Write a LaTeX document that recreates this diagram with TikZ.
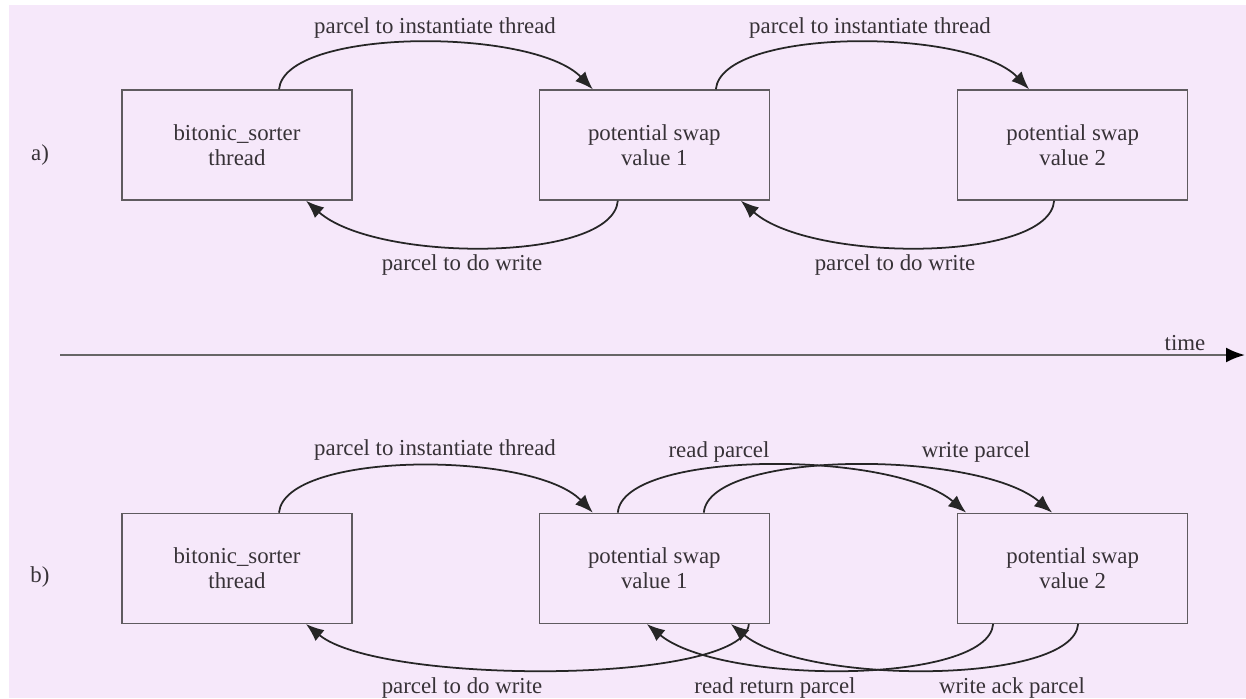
\documentclass[tikz,border=0pt]{standalone}
\usepackage{fontspec}
\setmainfont{Liberation Serif}
\usetikzlibrary{positioning,arrows.meta,calc}
\definecolor{bgpink}{RGB}{246,232,250}
\definecolor{inkgray}{RGB}{55,50,55}

\begin{document}
\begin{tikzpicture}[x=0.02cm, y=-0.02cm, font=\fontsize{13}{14.5}\selectfont,
  >={Latex[length=3.6mm,width=2.8mm]},
  proc/.style={draw=inkgray!80, line width=0.8pt, rectangle, minimum width=4.6cm, minimum height=2.2cm, align=center, text=inkgray, inner sep=0pt},
  lbl/.style={text=inkgray, inner sep=0pt},
  msg/.style={->, line width=1pt, draw=black!85}]
  \useasboundingbox (0,0) rectangle (1246,698);
  \fill[white] (0,0) rectangle (1246,698);
  \fill[bgpink] (9,5) rectangle (1246,698);

  % Row a
  \node[proc] (sortA) at (237,145) {bitonic\_sorter\\thread};
  \node[proc, right=3.72cm of sortA] (swapA) {potential swap\\value 1};
  \node[proc, right=3.74cm of swapA] (swapB) {potential swap\\value 2};
  \node[lbl] (tagA) at (40,155) {a)};

  % Row b
  \node[proc, below=6.24cm of sortA] (sortB) {bitonic\_sorter\\thread};
  \node[proc, below=6.24cm of swapA] (swapC) {potential swap\\value 1};
  \node[proc, below=6.24cm of swapB] (swapD) {potential swap\\value 2};
  \node[lbl] (tagB) at (40,577) {b)};

  % Time axis
  \coordinate (tstart) at (60,355);
  \coordinate (tend) at (1245,355);
  \draw[-{Latex[length=3.8mm,width=3mm,color=black]}, line width=1.3pt, draw=black!60] (tstart) -- (tend);
  \node[lbl] (timelbl) at (1185,343) {time};

  % Arrows, row a
  \draw[msg] ($(sortA.north)+(42,0)$) .. controls +(6,-62) and +(-60,-62) .. ($(swapA.north)+(-61.5,0)$);
  \draw[msg] ($(swapA.north)+(61.5,0)$) .. controls +(6,-62) and +(-60,-62) .. ($(swapB.north)+(-43.5,0)$);
  \draw[msg] ($(swapA.south)+(-36.5,0)$) .. controls +(-5,62) and +(70,62) .. ($(sortA.south)+(69,0)$);
  \draw[msg] ($(swapB.south)+(-18.5,0)$) .. controls +(-5,62) and +(70,62) .. ($(swapA.south)+(86.5,0)$);
  \node[lbl] (instA) at (435,28) {parcel to instantiate thread};
  \node[lbl] (instB) at (870,28) {parcel to instantiate thread};
  \node[lbl] (writeA) at (462,265) {parcel to do write};
  \node[lbl] (writeB) at (895,265) {parcel to do write};

  % Arrows, row b
  \draw[msg] ($(sortB.north)+(42,0)$) .. controls +(6,-62) and +(-60,-62) .. ($(swapC.north)+(-61.5,0)$);
  \draw[msg] ($(swapC.north)+(-36.5,0)$) .. controls +(5,-63) and +(-74,-63) .. ($(swapD.north)+(-106.5,0)$);
  \draw[msg] ($(swapC.north)+(49.5,0)$) .. controls +(5,-63) and +(-74,-63) .. ($(swapD.north)+(-20.5,0)$);
  \draw[msg] ($(swapC.south)+(94.5,0)$) .. controls +(-5,61) and +(74,61) .. ($(sortB.south)+(69,0)$);
  \draw[msg] ($(swapD.south)+(-79.5,0)$) .. controls +(-5,61) and +(74,61) .. ($(swapC.south)+(-7.5,0)$);
  \draw[msg] ($(swapD.south)+(5.5,0)$) .. controls +(-5,61) and +(74,61) .. ($(swapC.south)+(76.5,0)$);
  \node[lbl] (instC) at (435,450) {parcel to instantiate thread};
  \node[lbl] (readlbl) at (719,452) {read parcel};
  \node[lbl] (wrlbl) at (976,452) {write parcel};
  \node[lbl] (writeC) at (462,688) {parcel to do write};
  \node[lbl] (retlbl) at (775,688) {read return parcel};
  \node[lbl] (acklbl) at (1012,688) {write ack parcel};
\end{tikzpicture}
\end{document}
